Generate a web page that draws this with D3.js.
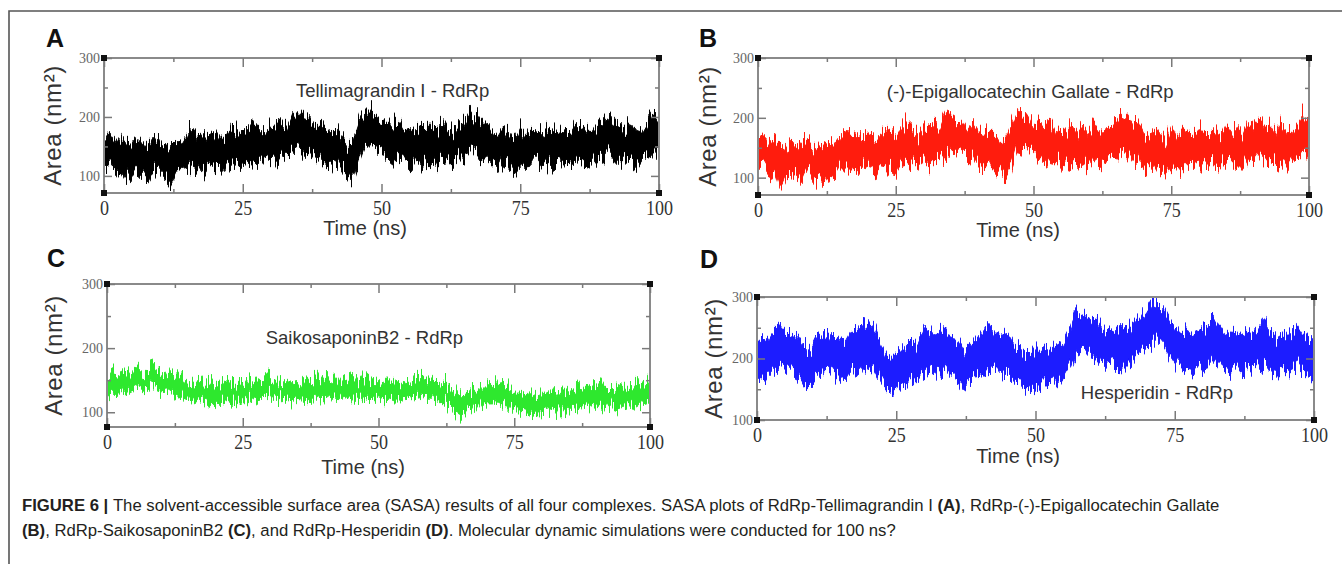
<!DOCTYPE html>
<html lang="en">
<head>
<meta charset="utf-8">
<title>SASA of RdRp complexes</title>
<script src="https://d3js.org/d3.v7.min.js"></script>
<style>
  body { margin: 0; background: #fff; }
  svg { display: block; }
</style>
</head>
<body>
<script>
// sample times (ns)
var timeNs = [0,1,2,3,4,5,6,7,8,9,10,11,12,13,14,15,16,17,18,19,20,21,22,23,24,25,26,27,28,29,30,31,32,33,34,35,36,37,38,39,40,41,42,43,44,45,46,47,48,49,50,51,52,53,54,55,56,57,58,59,60,61,62,63,64,65,66,67,68,69,70,71,72,73,74,75,76,77,78,79,80,81,82,83,84,85,86,87,88,89,90,91,92,93,94,95,96,97,98,99,100];

// upper / lower edge of each SASA trace per ns (nm^2)
var tellHi = [164,172,158,168,154,152,165,150,158,169,157,149,155,155,154,170,183,168,170,168,175,166,165,183,175,173,179,192,180,171,183,185,189,182,206,207,197,194,181,191,179,172,181,168,155,163,192,210,210,204,190,193,185,193,176,179,175,186,176,186,176,188,178,175,190,189,208,200,189,190,174,167,183,172,161,182,167,179,178,168,182,177,172,180,171,188,179,182,172,190,188,203,188,186,175,189,177,174,191,207,192];
var tellLo = [114,122,106,110,90,102,112,102,95,112,105,95,82,103,106,118,114,118,106,122,115,106,124,118,121,113,125,123,123,124,131,123,127,136,137,148,136,144,130,133,119,120,123,106,105,92,123,150,151,146,144,130,122,133,125,117,128,121,126,126,118,129,122,123,132,132,146,143,131,130,117,109,126,114,102,119,109,120,129,115,121,118,127,113,122,121,129,121,116,131,132,146,132,122,127,126,114,129,131,143,132];

var egcgHi = [166,170,160,166,156,150,163,152,160,167,155,151,153,157,156,168,181,170,172,166,177,164,167,181,177,171,181,190,182,169,185,183,191,180,204,209,195,196,179,193,177,174,179,170,153,165,190,212,208,206,188,195,183,195,174,181,173,188,174,188,174,190,176,177,188,191,206,202,187,192,172,169,181,174,159,184,165,181,176,170,180,179,170,182,169,190,177,184,170,192,186,201,186,188,173,191,175,176,189,205,194];
var egcgLo = [112,120,104,108,80,100,110,104,93,114,103,97,86,101,108,116,116,116,108,120,117,104,122,120,119,111,127,121,125,122,129,125,125,134,139,146,138,142,132,131,121,118,125,104,107,96,121,152,149,148,142,132,120,135,123,119,126,123,124,128,116,131,120,125,130,134,144,145,129,132,115,111,124,116,104,117,111,118,127,117,119,120,125,115,120,119,127,123,114,133,130,144,130,124,125,128,112,127,133,141,130];

var saikoHi = [154,160,158,162,158,167,165,163,171,165,160,161,155,157,152,146,147,150,142,144,140,143,149,143,144,149,145,148,149,157,156,150,150,151,146,148,145,150,149,152,148,155,150,150,155,151,150,152,148,149,153,148,149,152,149,153,150,154,156,151,148,148,142,139,134,127,128,135,136,141,141,142,149,142,136,133,133,127,129,126,127,132,136,130,135,132,135,139,137,140,142,146,137,137,134,139,139,138,145,141,143];
var saikoLo = [127,128,128,134,129,134,139,135,140,136,132,133,128,122,124,120,116,120,116,112,112,115,118,114,115,118,118,121,118,126,126,122,121,122,116,120,119,118,119,124,119,125,122,121,124,121,120,123,120,120,124,121,122,119,119,123,126,123,125,122,122,115,115,110,100,95,102,103,110,110,113,113,116,112,111,102,102,99,95,99,99,103,106,102,102,107,105,108,109,112,109,113,108,110,107,109,112,109,114,112,115];

var hespHi = [226,234,229,246,255,245,236,240,227,216,221,240,237,240,232,236,229,246,245,257,255,252,228,206,204,213,212,226,226,227,250,244,236,248,245,231,229,214,225,229,233,252,251,241,238,241,225,224,213,213,214,213,219,218,219,225,243,268,275,269,264,262,247,249,245,250,250,251,265,268,281,296,292,282,264,252,241,245,240,244,249,253,262,253,239,243,242,239,243,240,245,262,245,237,234,241,242,253,238,236,226];
var hespLo = [166,173,169,178,187,181,181,174,160,152,162,167,180,181,168,171,173,181,177,187,192,188,170,153,145,149,155,160,161,171,173,185,173,180,186,172,164,149,162,168,178,178,188,185,175,174,165,164,153,147,150,157,157,165,157,167,183,205,211,214,204,200,187,188,190,183,191,191,204,209,215,225,234,223,205,191,181,183,181,184,187,190,205,191,183,179,185,177,178,184,183,189,182,176,177,177,179,186,179,178,170];

// axis ticks
var xTicks = [0, 25, 50, 75, 100];
var xMinor = [12.5, 37.5, 62.5, 87.5];
var yTicks = [100, 200, 300];
var yMinor = [150, 250];

var panels = [
  { key: "A", title: "Tellimagrandin I - RdRp", hi: tellHi, lo: tellLo, color: "#000000",
    box: [104, 659, 58, 193], yMin: 71, titleAt: [52, 244], letter: [46, 47],
    timeX: 365, timeDy: 35, areaX: 61 },
  { key: "B", title: "(-)-Epigallocatechin Gallate - RdRp", hi: egcgHi, lo: egcgLo, color: "#ff1a0a",
    box: [758, 1309, 58, 195], yMin: 71, titleAt: [49.4, 244], letter: [699, 47],
    timeX: 1018, timeDy: 34.5, areaX: 716 },
  { key: "C", title: "SaikosaponinB2 - RdRp", hi: saikoHi, lo: saikoLo, color: "#2fe82f",
    box: [107, 650, 284, 427], yMin: 77, titleAt: [47.4, 217], letter: [47, 267],
    timeX: 363, timeDy: 40, areaX: 62 },
  { key: "D", title: "Hesperidin - RdRp", hi: hespHi, lo: hespLo, color: "#1a1aff",
    box: [757, 1314, 297, 420], yMin: 100, titleAt: [71.8, 145], letter: [700, 268],
    timeX: 1018, timeDy: 36, areaX: 722 }
];

var width = 1342, height = 564;

var svg = d3.select("body").append("svg")
    .attr("width", width)
    .attr("height", height);

// fine grain texture so the dense MD trace edges look spiky rather than smooth
var defs = svg.append("defs");
var grain = defs.append("filter")
    .attr("id", "grain")
    .attr("x", "-2%").attr("y", "-40%")
    .attr("width", "104%").attr("height", "180%");
grain.append("feTurbulence")
    .attr("type", "fractalNoise")
    .attr("baseFrequency", "0.55 0.015")
    .attr("numOctaves", 2)
    .attr("seed", 3)
    .attr("result", "noise");
grain.append("feColorMatrix")
    .attr("in", "noise")
    .attr("type", "matrix")
    .attr("values", "0 0 0 0 0.5  0 1 0 0 0  0 0 0 0 0  0 0 0 0 1")
    .attr("result", "shift");
grain.append("feDisplacementMap")
    .attr("in", "SourceGraphic")
    .attr("in2", "shift")
    .attr("scale", 34)
    .attr("xChannelSelector", "R")
    .attr("yChannelSelector", "G")
    .attr("result", "spiky");
grain.append("feGaussianBlur")
    .attr("in", "spiky")
    .attr("stdDeviation", 0.45);

// figure frame (top + left rules)
svg.append("path")
    .attr("d", "M9,564V11H1342")
    .attr("fill", "none")
    .attr("stroke", "#555")
    .attr("stroke-width", 1.6);

panels.forEach(drawPanel);

function styleAxis(sel) {
  sel.select(".domain").remove();
  sel.selectAll(".tick line").attr("stroke", "#7a7a7a").attr("stroke-width", 1.5);
}

function drawPanel(p) {
  var x = d3.scaleLinear().domain([0, 100]).range([p.box[0], p.box[1]]);
  var y = d3.scaleLinear().domain([p.yMin, 300]).range([p.box[3], p.box[2]]);
  var g = svg.append("g").attr("class", "panel-" + p.key);

  // trace band
  var band = d3.area()
      .x(function(d, i) { return x(timeNs[i]); })
      .y0(function(d, i) { return y(p.lo[i]); })
      .y1(function(d) { return y(d); });

  g.append("path")
      .datum(p.hi)
      .attr("d", band)
      .attr("fill", p.color)
      .attr("stroke", p.color)
      .attr("stroke-width", 1)
      .attr("stroke-linejoin", "round")
      .attr("filter", "url(#grain)");

  // frame
  g.append("rect")
      .attr("x", p.box[0]).attr("y", p.box[2])
      .attr("width", p.box[1] - p.box[0]).attr("height", p.box[3] - p.box[2])
      .attr("fill", "none")
      .attr("stroke", "#8a8a8a")
      .attr("stroke-width", 2);

  // bottom axis with labels
  var bottom = g.append("g")
      .attr("transform", "translate(0," + p.box[3] + ")")
      .call(d3.axisBottom(x).tickValues(xTicks).tickSizeInner(-9).tickSizeOuter(0).tickPadding(7));
  styleAxis(bottom);
  bottom.selectAll(".tick text")
      .attr("font-family", "'Liberation Serif', 'Times New Roman', serif")
      .attr("font-size", 20.5)
      .attr("fill", "#333")
      .attr("transform", "scale(0.88,1)");

  g.append("g")
      .attr("transform", "translate(0," + p.box[3] + ")")
      .call(d3.axisBottom(x).tickValues(xMinor).tickSizeInner(-4).tickSizeOuter(0).tickFormat(""))
      .call(styleAxis);

  // top axis (ticks only)
  g.append("g")
      .attr("transform", "translate(0," + p.box[2] + ")")
      .call(d3.axisTop(x).tickValues(xTicks).tickSizeInner(-9).tickSizeOuter(0).tickFormat(""))
      .call(styleAxis);
  g.append("g")
      .attr("transform", "translate(0," + p.box[2] + ")")
      .call(d3.axisTop(x).tickValues(xMinor).tickSizeInner(-4).tickSizeOuter(0).tickFormat(""))
      .call(styleAxis);

  // left axis with small labels
  var left = g.append("g")
      .attr("transform", "translate(" + p.box[0] + ",0)")
      .call(d3.axisLeft(y).tickValues(yTicks).tickSizeInner(-8).tickSizeOuter(0).tickPadding(4));
  styleAxis(left);
  left.selectAll(".tick text")
      .attr("font-family", "'Liberation Serif', 'Times New Roman', serif")
      .attr("font-size", 14)
      .attr("fill", "#666");

  g.append("g")
      .attr("transform", "translate(" + p.box[0] + ",0)")
      .call(d3.axisLeft(y).tickValues(yMinor).tickSizeInner(-4).tickSizeOuter(0).tickFormat(""))
      .call(styleAxis);

  // right axis (ticks only)
  g.append("g")
      .attr("transform", "translate(" + p.box[1] + ",0)")
      .call(d3.axisRight(y).tickValues(yTicks).tickSizeInner(-8).tickSizeOuter(0).tickFormat(""))
      .call(styleAxis);
  g.append("g")
      .attr("transform", "translate(" + p.box[1] + ",0)")
      .call(d3.axisRight(y).tickValues(yMinor).tickSizeInner(-4).tickSizeOuter(0).tickFormat(""))
      .call(styleAxis);

  // black corner markers
  var corners = [];
  x.range().forEach(function(cx) { y.range().forEach(function(cy) { corners.push([cx, cy]); }); });
  g.selectAll("rect.corner")
      .data(corners)
      .enter().append("rect")
      .attr("class", "corner")
      .attr("x", function(d) { return d[0] - 3; })
      .attr("y", function(d) { return d[1] - 3; })
      .attr("width", 6).attr("height", 6)
      .attr("fill", "#111");

  // complex name inside plot
  g.append("text")
      .attr("x", x(p.titleAt[0]))
      .attr("y", y(p.titleAt[1]))
      .attr("dy", "0.35em")
      .attr("text-anchor", "middle")
      .attr("font-family", "'Liberation Sans', Arial, sans-serif")
      .attr("font-size", 18.5)
      .attr("fill", "#333")
      .text(p.title);

  // axis titles
  g.append("text")
      .attr("x", p.timeX)
      .attr("y", p.box[3] + p.timeDy)
      .attr("dy", "0.35em")
      .attr("text-anchor", "middle")
      .attr("font-family", "'Liberation Sans', Arial, sans-serif")
      .attr("font-size", 20)
      .attr("fill", "#333")
      .text("Time (ns)");

  g.append("text")
      .attr("transform", "translate(" + p.areaX + "," + (p.box[2] + p.box[3]) / 2 + ") rotate(-90)")
      .attr("text-anchor", "middle")
      .attr("font-family", "'Liberation Sans', Arial, sans-serif")
      .attr("font-size", 24)
      .attr("letter-spacing", 0.6)
      .attr("fill", "#333")
      .text("Area (nm²)");

  // panel letter
  g.append("text")
      .attr("x", p.letter[0])
      .attr("y", p.letter[1])
      .attr("font-family", "'Liberation Sans', Arial, sans-serif")
      .attr("font-weight", "bold")
      .attr("font-size", 25)
      .attr("fill", "#111")
      .text(p.key);
}

// caption
var caption = svg.append("g")
    .attr("font-family", "'Liberation Sans', Arial, sans-serif")
    .attr("font-size", 16.7)
    .attr("fill", "#231f20");

var line1 = caption.append("text").attr("x", 22).attr("y", 511);
line1.append("tspan").attr("font-weight", "bold").text("FIGURE 6 | ");
line1.append("tspan").text("The solvent-accessible surface area (SASA) results of all four complexes. SASA plots of RdRp-Tellimagrandin I ");
line1.append("tspan").attr("font-weight", "bold").text("(A)");
line1.append("tspan").text(", RdRp-(-)-Epigallocatechin Gallate");

var line2 = caption.append("text").attr("x", 22).attr("y", 536);
line2.append("tspan").attr("font-weight", "bold").text("(B)");
line2.append("tspan").text(", RdRp-SaikosaponinB2 ");
line2.append("tspan").attr("font-weight", "bold").text("(C)");
line2.append("tspan").text(", and RdRp-Hesperidin ");
line2.append("tspan").attr("font-weight", "bold").text("(D)");
line2.append("tspan").text(". Molecular dynamic simulations were conducted for 100 ns?");
</script>
</body>
</html>
